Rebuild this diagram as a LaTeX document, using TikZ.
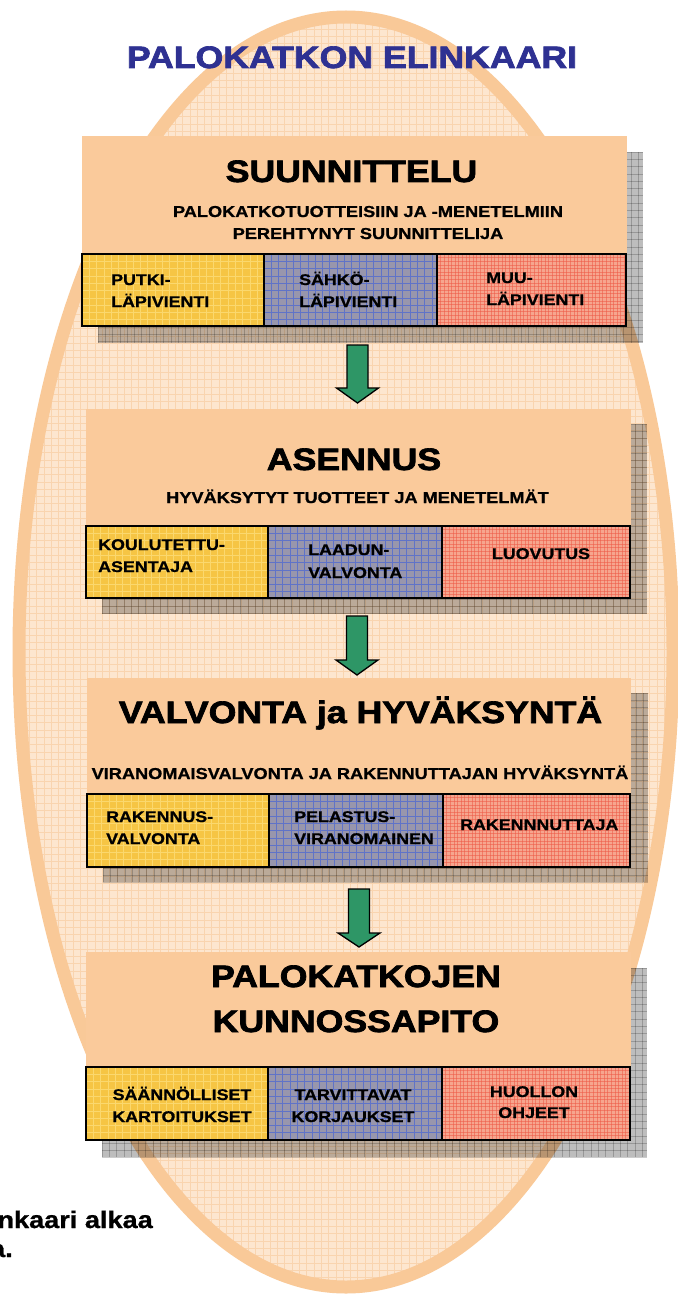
\documentclass[tikz,border=0pt]{standalone}
\usepackage{fontspec}
\setmainfont{Liberation Sans}[BoldFeatures={FakeBold=0.9}]
\newfontfamily\heavy{Liberation Sans}[BoldFeatures={FakeBold=2.2}]
\usepackage{graphicx}
\definecolor{ellfill}{RGB}{253,230,207}
\definecolor{ellgridc}{RGB}{249,212,175}
\definecolor{ellstroke}{RGB}{249,201,152}
\definecolor{peach}{RGB}{250,202,155}
\definecolor{yelc}{RGB}{246,197,68}
\definecolor{yelg}{RGB}{251,216,110}
\definecolor{bluc}{RGB}{152,150,172}
\definecolor{blug}{RGB}{95,115,200}
\definecolor{redc}{RGB}{246,165,142}
\definecolor{redg}{RGB}{238,90,70}
\definecolor{arrc}{RGB}{46,150,102}
\definecolor{ttlc}{RGB}{46,49,146}
\newcommand\sx[1]{\scalebox{1.15}[1]{#1}}
\newcommand\gridrect[6]{%
  \begin{scope}
  \clip (#1,#2) rectangle (#3,#4);
  \pgfmathtruncatemacro\gnx{(#3-#1)/#5+1}
  \pgfmathtruncatemacro\gny{(#4-#2)/#5+1}
  \foreach \k in {0,...,\gnx} \draw[#6] ({#1+\k*#5},#2) -- ({#1+\k*#5},#4);
  \foreach \k in {0,...,\gny} \draw[#6] (#1,{#2+\k*#5}) -- (#3,{#2+\k*#5});
  \end{scope}}
\newcommand\subbox[7]{%
  \fill[#5] (#1,#2) rectangle (#3,#4);
  \gridrect{#1}{#2}{#3}{#4}{#7}{#6}
  \draw[line width=1.6pt, black] (#1,#2) rectangle (#3,#4);}
\newcommand\shadowbox[4]{%
  \fill[black, fill opacity=0.26] (#1,#2) rectangle (#3,#4);
  \gridrect{#1}{#2}{#3}{#4}{7.3}{shgrid}}
\newcommand\greenarrow[4]{%
  \filldraw[fill=arrc, draw=black, line width=1.3pt, line join=miter]
    ({#1-10.5},#2) -- ({#1+10.5},#2) -- ({#1+10.5},#3) -- ({#1+21},#3)
    -- (#1,#4) -- ({#1-21},#3) -- ({#1-10.5},#3) -- cycle;}
\begin{document}
\begin{tikzpicture}[x=1pt,y=-1pt,
  ellgrid/.style={ellgridc, line width=0.6pt},
  shgrid/.style={black, opacity=0.2, line width=0.7pt},
  yelgrid/.style={yelg, line width=0.6pt},
  blugrid/.style={blug, line width=0.6pt},
  redgrid/.style={redg, opacity=0.55, line width=0.45pt},
  ttl/.style={inner sep=0pt, anchor=base, text=ttlc, font=\heavy\bfseries\fontsize{31}{31}\selectfont},
  hd/.style={inner sep=0pt, anchor=base, font=\heavy\bfseries\fontsize{31}{31}\selectfont},
  sub/.style={inner sep=0pt, anchor=base, font=\bfseries\fontsize{15.8}{16}\selectfont},
  cell/.style={inner sep=0pt, anchor=base west, font=\bfseries\fontsize{15.5}{16}\selectfont},
  cellc/.style={inner sep=0pt, anchor=base, font=\bfseries\fontsize{15.5}{16}\selectfont},
  note/.style={inner sep=0pt, anchor=base east, font=\bfseries\fontsize{24}{24}\selectfont}]
\useasboundingbox (0,0) rectangle (677,1297);
\fill[white] (0,0) rectangle (677,1297);

% ellipse background
\begin{scope}
  \clip (346,652) ellipse [x radius=327, y radius=635];
  \fill[ellfill] (0,0) rectangle (677,1297);
  \gridrect{0}{0}{677}{1297}{7.3}{ellgrid}
\end{scope}
\draw[ellstroke, line width=13pt] (346,652) ellipse [x radius=327, y radius=635];

% title
\node[ttl] (title) at (352,68) {\sx{PALOKATKON ELINKAARI}};

% ---- box 1
\shadowbox{98}{152}{643}{343}
\fill[peach] (82,136) rectangle (627,326);
\subbox{82}{254}{264}{326}{yelc}{yelgrid}{7.3}
\subbox{264}{254}{437}{326}{bluc}{blugrid}{7.3}
\subbox{437}{254}{626}{326}{redc}{redgrid}{3.6}
\node[hd] (h1) at (351.5,182) {\sx{SUUNNITTELU}};
\node[sub] (s1a) at (368,217) {\sx{PALOKATKOTUOTTEISIIN JA -MENETELMIIN}};
\node[sub] (s1b) at (368,239) {\sx{PEREHTYNYT SUUNNITTELIJA}};
\node[cell] (c11a) at (111,285) {\sx{PUTKI-}};
\node[cell] (c11b) at (111,307) {\sx{LÄPIVIENTI}};
\node[cell] (c12a) at (299,285) {\sx{SÄHKÖ-}};
\node[cell] (c12b) at (299,307) {\sx{LÄPIVIENTI}};
\node[cell] (c13a) at (486,283) {\sx{MUU-}};
\node[cell] (c13b) at (486,305) {\sx{LÄPIVIENTI}};

\greenarrow{357.5}{345}{388}{403}

% ---- box 2
\shadowbox{102}{424}{647}{614}
\fill[peach] (86,409) rectangle (631,598);
\subbox{86}{526}{268}{598}{yelc}{yelgrid}{7.3}
\subbox{268}{526}{442}{598}{bluc}{blugrid}{7.3}
\subbox{442}{526}{630}{598}{redc}{redgrid}{3.6}
\node[hd] (h2) at (354,470) {\sx{ASENNUS}};
\node[sub] (s2) at (357.5,503) {\sx{HYVÄKSYTYT TUOTTEET JA MENETELMÄT}};
\node[cell] (c21a) at (98,550) {\sx{KOULUTETTU-}};
\node[cell] (c21b) at (98,572) {\sx{ASENTAJA}};
\node[cell] (c22a) at (308,555) {\sx{LAADUN-}};
\node[cell] (c22b) at (308,578) {\sx{VALVONTA}};
\node[cellc] (c23) at (541,559) {\sx{LUOVUTUS}};

\greenarrow{357}{616}{660}{675}

% ---- box 3
\shadowbox{103}{693}{648}{882}
\fill[peach] (87,678) rectangle (631,867);
\subbox{87}{794}{269}{867}{yelc}{yelgrid}{7.3}
\subbox{269}{794}{443}{867}{bluc}{blugrid}{7.3}
\subbox{443}{794}{630}{867}{redc}{redgrid}{3.6}
\node[hd] (h3) at (360.5,723) {\sx{VALVONTA ja HYVÄKSYNTÄ}};
\node[sub] (s3) at (360,779) {\sx{VIRANOMAISVALVONTA JA RAKENNUTTAJAN HYVÄKSYNTÄ}};
\node[cell] (c31a) at (106,822) {\sx{RAKENNUS-}};
\node[cell] (c31b) at (106,844) {\sx{VALVONTA}};
\node[cell] (c32a) at (294,822) {\sx{PELASTUS-}};
\node[cell] (c32b) at (294,844) {\sx{VIRANOMAINEN}};
\node[cell] (c33) at (460,830) {\sx{RAKENNNUTTAJA}};

\greenarrow{359}{889}{933}{947}

% ---- box 4
\shadowbox{102}{968}{647}{1157}
\fill[peach] (86,952) rectangle (631,1140);
\subbox{86}{1067}{268}{1140}{yelc}{yelgrid}{7.3}
\subbox{268}{1067}{442}{1140}{bluc}{blugrid}{7.3}
\subbox{442}{1067}{630}{1140}{redc}{redgrid}{3.6}
\node[hd] (h4a) at (356,987) {\sx{PALOKATKOJEN}};
\node[hd] (h4b) at (356,1032) {\sx{KUNNOSSAPITO}};
\node[cellc] (c41a) at (182,1100) {\sx{SÄÄNNÖLLISET}};
\node[cellc] (c41b) at (182,1122) {\sx{KARTOITUKSET}};
\node[cellc] (c42a) at (353,1100) {\sx{TARVITTAVAT}};
\node[cellc] (c42b) at (353,1122) {\sx{KORJAUKSET}};
\node[cellc] (c43a) at (534,1097) {\sx{HUOLLON}};
\node[cellc] (c43b) at (534,1118) {\sx{OHJEET}};

% cut-off note at bottom left (cut by the page edge, as in the reference)
\node[note] (n1) at (153,1228) {\scalebox{1.13}[1]{nkaari alkaa}};
\node[note] (n2) at (13,1257) {\scalebox{1.13}[1]{a.}};
\end{tikzpicture}
\end{document}
